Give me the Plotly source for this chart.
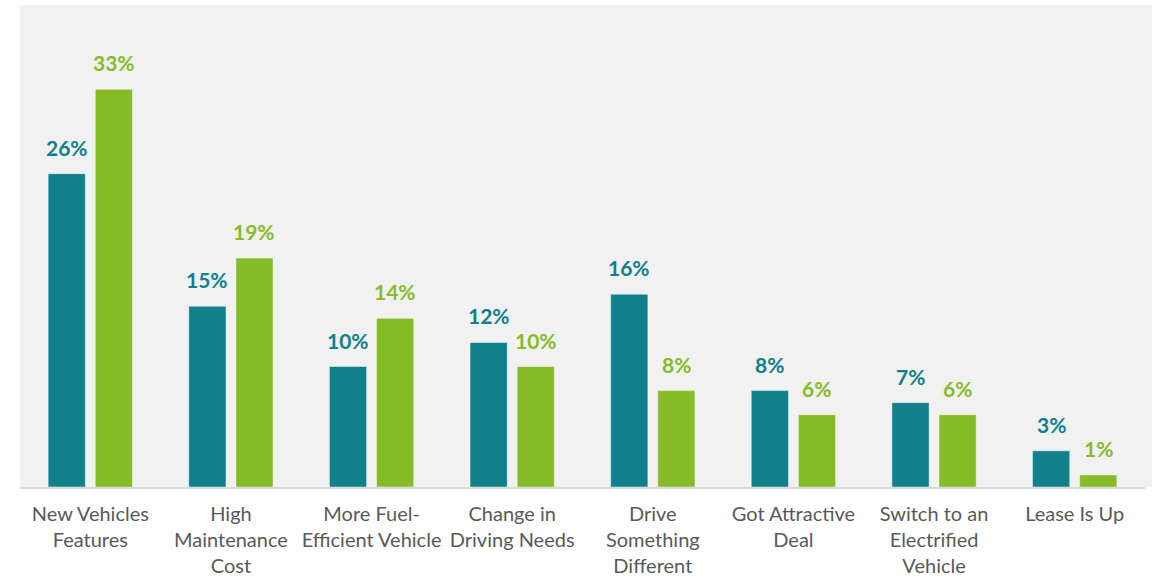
import plotly.graph_objects as go

categories = [
    "New Vehicles<br>Features",
    "High<br>Maintenance<br>Cost",
    "More Fuel-<br>Efficient Vehicle",
    "Change in<br>Driving Needs",
    "Drive<br>Something<br>Different",
    "Got Attractive<br>Deal",
    "Switch to an<br>Electrified<br>Vehicle",
    "Lease Is Up",
]
series_a = [26, 15, 10, 12, 16, 8, 7, 3]
series_b = [33, 19, 14, 10, 8, 6, 6, 1]

TEAL = "#0F808C"
GREEN = "#86BC28"
W, H = 1152, 577
ML, MR, MT, MB = 20, 7, 5, 90
BARGAP = 0.33
BARGROUPGAP = 0.21

fig = go.Figure()
for vals, col, name in [(series_a, TEAL, "A"), (series_b, GREEN, "B")]:
    fig.add_trace(go.Bar(
        x=categories, y=vals, name=name,
        marker=dict(color=col, line=dict(color="rgba(255,255,255,0.45)", width=1)),
        hoverinfo="skip",
    ))

# value labels above each bar
plot_w = W - ML - MR
slot = plot_w / len(categories) * (1 - BARGAP) / 2
for vals, col, sign in [(series_a, TEAL, -1), (series_b, GREEN, 1)]:
    for c, v in zip(categories, vals):
        fig.add_annotation(
            x=c, y=v, text=f"<b>{v}%</b>", showarrow=False,
            xref="x", yref="y", xanchor="center", yanchor="bottom",
            xshift=sign * slot / 2, yshift=12,
            font=dict(family="Lato", size=21, color=col),
        )

# gray panel reaching the right edge of the page
fig.add_shape(type="rect", xref="paper", yref="paper",
              x0=0, x1=1 + MR / plot_w, y0=0, y1=1,
              fillcolor="#F1F1F1", line=dict(width=0), layer="below")

fig.update_layout(
    width=W, height=H,
    margin=dict(l=ML, r=MR, t=MT, b=MB, autoexpand=False),
    paper_bgcolor="white", plot_bgcolor="#F1F1F1",
    barmode="group", bargap=BARGAP, bargroupgap=BARGROUPGAP,
    showlegend=False,
    font=dict(family="Lato", color="#595959"),
    xaxis=dict(
        automargin=False,
        showgrid=False, showline=True, linecolor="#D9D9D9", linewidth=2,
        ticks="", tickfont=dict(family="Lato", size=20, color="#595959"),
        ticklabelstandoff=8,
    ),
    yaxis=dict(range=[0, 40], visible=False, showgrid=False, zeroline=False),
)

fig.write_html("out.html")
